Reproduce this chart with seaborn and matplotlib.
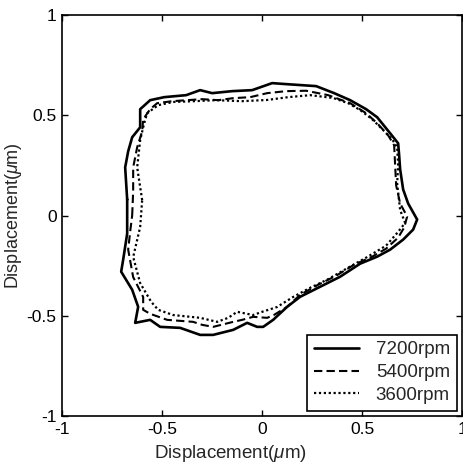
import matplotlib
matplotlib.use("Agg")
import matplotlib.pyplot as plt
import seaborn as sns
import pandas as pd

# Spindle orbit (x, y displacement in micrometres) at three speeds
x_7200 = [-0.675, -0.685, -0.67, -0.65, -0.61, -0.61, -0.56, -0.49, -0.38, -0.31,
          -0.25, -0.15, -0.05, 0.05, 0.12, 0.27, 0.36, 0.44, 0.52, 0.575,
          0.64, 0.68, 0.685, 0.69, 0.705, 0.73, 0.775, 0.755, 0.705, 0.64,
          0.575, 0.49, 0.39, 0.29, 0.19, 0.125, 0.055, 0.005, -0.025, -0.075,
          -0.145, -0.245, -0.31, -0.41, -0.51, -0.56, -0.635, -0.62, -0.65, -0.705,
          -0.695, -0.675]
y_7200 = [0.08, 0.24, 0.32, 0.39, 0.44, 0.53, 0.575, 0.59, 0.60, 0.625,
          0.61, 0.62, 0.625, 0.66, 0.655, 0.645, 0.61, 0.575, 0.53, 0.49,
          0.41, 0.36, 0.30, 0.23, 0.13, 0.06, -0.02, -0.07, -0.12, -0.17,
          -0.205, -0.24, -0.305, -0.355, -0.405, -0.455, -0.52, -0.555, -0.555, -0.535,
          -0.57, -0.595, -0.595, -0.56, -0.555, -0.52, -0.535, -0.455, -0.37, -0.28,
          -0.22, -0.09]

x_5400 = [-0.65, -0.645, -0.645, -0.625, -0.60, -0.595, -0.56, -0.525, -0.45, -0.375,
          -0.30, -0.22, -0.145, -0.06, 0.025, 0.12, 0.22, 0.33, 0.44, 0.52,
          0.575, 0.63, 0.66, 0.665, 0.67, 0.69, 0.725, 0.71, 0.68, 0.62,
          0.55, 0.46, 0.37, 0.28, 0.19, 0.125, 0.06, 0.025, -0.045, -0.10,
          -0.145, -0.245, -0.30, -0.345, -0.475, -0.56, -0.595, -0.595, -0.645, -0.67,
          -0.66]
y_5400 = [0.0, 0.12, 0.24, 0.34, 0.42, 0.48, 0.53, 0.56, 0.57, 0.575,
          0.58, 0.575, 0.585, 0.59, 0.61, 0.62, 0.622, 0.60, 0.56, 0.51,
          0.46, 0.40, 0.35, 0.25, 0.15, 0.06, -0.005, -0.06, -0.11, -0.165,
          -0.205, -0.245, -0.30, -0.345, -0.395, -0.455, -0.495, -0.51, -0.505, -0.52,
          -0.53, -0.555, -0.545, -0.53, -0.52, -0.49, -0.47, -0.406, -0.307, -0.17,
          -0.08]

x_3600 = [-0.60, -0.625, -0.61, -0.59, -0.575, -0.52, -0.445, -0.34, -0.23, -0.10,
          0.025, 0.13, 0.24, 0.355, 0.43, 0.49, 0.55, 0.605, 0.65, 0.675,
          0.68, 0.675, 0.69, 0.715, 0.675, 0.62, 0.525, 0.43, 0.325, 0.24,
          0.155, 0.10, 0.075, 0.00, -0.045, -0.125, -0.17, -0.225, -0.31, -0.445,
          -0.52, -0.555, -0.61, -0.645, -0.61]
y_3600 = [0.077, 0.24, 0.376, 0.46, 0.51, 0.55, 0.566, 0.57, 0.575, 0.57,
          0.576, 0.59, 0.60, 0.586, 0.56, 0.526, 0.48, 0.426, 0.38, 0.34,
          0.25, 0.16, 0.027, -0.037, -0.087, -0.15, -0.207, -0.26, -0.32, -0.36,
          -0.406, -0.44, -0.456, -0.48, -0.496, -0.48, -0.51, -0.53, -0.51, -0.496,
          -0.47, -0.43, -0.337, -0.207, -0.057]

speeds = ["7200rpm", "5400rpm", "3600rpm"]
ticks = [-1, -0.5, 0, 0.5, 1]
tick_labels = ["-1", "-0.5", "0", "0.5", "1"]

sns.set_style("ticks")
plt.rcParams["font.family"] = ["Liberation Sans", "DejaVu Sans"]
plt.rcParams["mathtext.fontset"] = "custom"
plt.rcParams["mathtext.it"] = "Liberation Sans:italic"
plt.rcParams["mathtext.rm"] = "Liberation Sans"

fig, ax = plt.subplots(figsize=(4.64, 4.66), dpi=100)
fig.subplots_adjust(left=0.134, right=0.996, top=0.968, bottom=0.107)


def closed(xs, ys):
    return pd.DataFrame({"x": list(xs) + [xs[0]], "y": list(ys) + [ys[0]]})


curves = [(x_7200, y_7200, "-", 1.9),
          (x_5400, y_5400, (0, (4, 2)), 1.5),
          (x_3600, y_3600, (0, (1, 1.2)), 1.6)]
for (xs, ys, ls, lw), name in zip(curves, speeds):
    d = closed(xs, ys)
    sns.lineplot(data=d, x="x", y="y", sort=False, estimator=None, ax=ax,
                 color="black", linestyle=ls, linewidth=lw, label=name)

ax.set_xlim(-1, 1)
ax.set_ylim(-1, 1)
ax.set_xticks(ticks)
ax.set_xticklabels(tick_labels)
ax.set_yticks(ticks)
ax.set_yticklabels(tick_labels)
ax.tick_params(direction="in", top=True, right=True, length=4, width=1,
               labelsize=12.5, colors="black", pad=4)
for s in ax.spines.values():
    s.set_visible(True)
    s.set_color("black")
    s.set_linewidth(1.2)

ax.set_xlabel(r"Displacement($\mu$m)", fontsize=13.5)
ax.xaxis.set_label_coords(0.42, -0.068)
ax.set_ylabel(r"Displacement($\mu$m)", fontsize=13, labelpad=2)

leg = ax.legend(loc="lower right", frameon=True, fancybox=False, framealpha=1,
                edgecolor="black", fontsize=13.5, handlelength=2.4,
                borderaxespad=0.3, labelspacing=0.3, handletextpad=0.9,
                borderpad=0.35)
leg.get_frame().set_linewidth(1.2)

fig.savefig("out.png", dpi=100)
